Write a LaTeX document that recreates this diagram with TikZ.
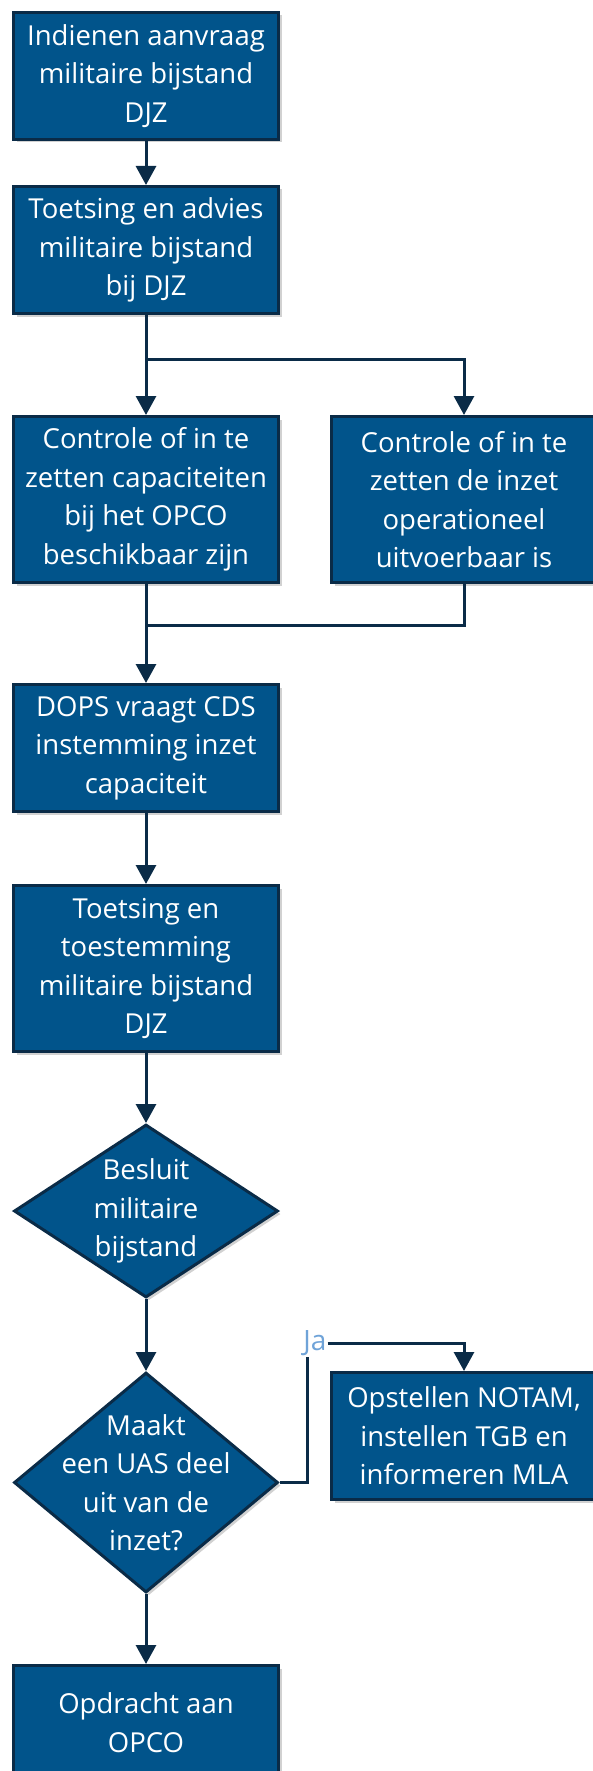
\documentclass[tikz,border=0pt]{standalone}
\usepackage{fontspec}
\setmainfont{Open Sans}
\usepackage{tikz}
\usetikzlibrary{arrows.meta, positioning, calc, shapes.geometric, shadows}
\usepackage{xcolor}
\definecolor{rijksblauw}{HTML}{01548B}
\definecolor{donkerrand}{HTML}{0A2B47}
\definecolor{jablauw}{HTML}{6FA3D8}

\begin{document}
\begin{tikzpicture}[
  x=1pt, y=-1pt,
  blok/.style={draw=donkerrand, line width=3pt, fill=rijksblauw, text=white, minimum width=265pt, minimum height=127pt, align=center, inner sep=0pt, font=\fontsize{27.5}{38.5}\selectfont, drop shadow={shadow xshift=3pt, shadow yshift=-3pt, fill=black, opacity=0.18}},
  hoog/.style={blok, minimum height=166pt},
  ruit/.style={diamond, draw=donkerrand, line width=3pt, fill=rijksblauw, inner sep=0pt, minimum width=264pt, drop shadow={shadow xshift=3pt, shadow yshift=-3pt, fill=black, opacity=0.18}},
  ruittekst/.style={text=white, align=center, font=\fontsize{27.5}{38.5}\selectfont},
  lijn/.style={draw=donkerrand, line width=3pt},
  pijl/.style={lijn, -{Triangle[width=20pt, length=19pt]}}
]
\useasboundingbox (0,0) rectangle (593,1771);
\node[blok] (aanvraag) at (146,76) {Indienen aanvraag\\militaire bijstand\\DJZ};
\node[blok, below=44pt of aanvraag] (advies) {Toetsing en advies\\militaire bijstand\\bij DJZ};
\node[hoog, below=100pt of advies] (capaciteit) {Controle of in te\\zetten capaciteiten\\bij het OPCO\\beschikbaar zijn};
\node[hoog, right=50pt of capaciteit] (uitvoer) {Controle of in te\\zetten de inzet\\operationeel\\uitvoerbaar is};
\node[blok, below=99pt of capaciteit] (dops) {DOPS vraagt CDS\\instemming inzet\\capaciteit};
\node[hoog, below=71pt of dops] (toestemming) {Toetsing en\\toestemming\\militaire bijstand\\DJZ};
\node[ruit, minimum height=173pt, below=70pt of toestemming, label={[ruittekst]center:Besluit\\militaire\\bijstand}] (besluit) {};
\node[ruit, minimum height=220pt, below=72pt of besluit, label={[ruittekst]center:Maakt\\een UAS deel\\uit van de\\inzet?}] (uas) {};
\node[blok, anchor=north] (notam) at (uitvoer.south |- uas.north) {Opstellen NOTAM,\\instellen TGB en\\informeren MLA};
\node[blok, minimum height=114pt, below=70pt of uas] (opdracht) {Opdracht aan\\OPCO};
\node[text=jablauw, inner sep=1pt, font=\fontsize{28}{30}\selectfont] (ja) at (315,1343) {Ja};

% verbindingen
\coordinate (splits) at ($(advies.south)!0.44!(capaciteit.north)$);
\coordinate (samen) at ($(capaciteit.south)!0.42!(dops.north)$);
\draw[pijl] (aanvraag) -- (advies);
\draw[pijl] (advies) -- (capaciteit);
\draw[pijl] (splits) -| (uitvoer.north);
\draw[lijn] (uitvoer.south) |- (samen);
\draw[pijl] (capaciteit) -- (dops);
\draw[pijl] (dops) -- (toestemming);
\draw[pijl] (toestemming) -- (besluit);
\draw[pijl] (besluit) -- (uas);
\draw[lijn] (uas.east) -| ([xshift=-8pt]ja.south);
\draw[pijl] (ja.east) -| (notam.north);
\draw[pijl] (uas) -- (opdracht);
\end{tikzpicture}
\end{document}
